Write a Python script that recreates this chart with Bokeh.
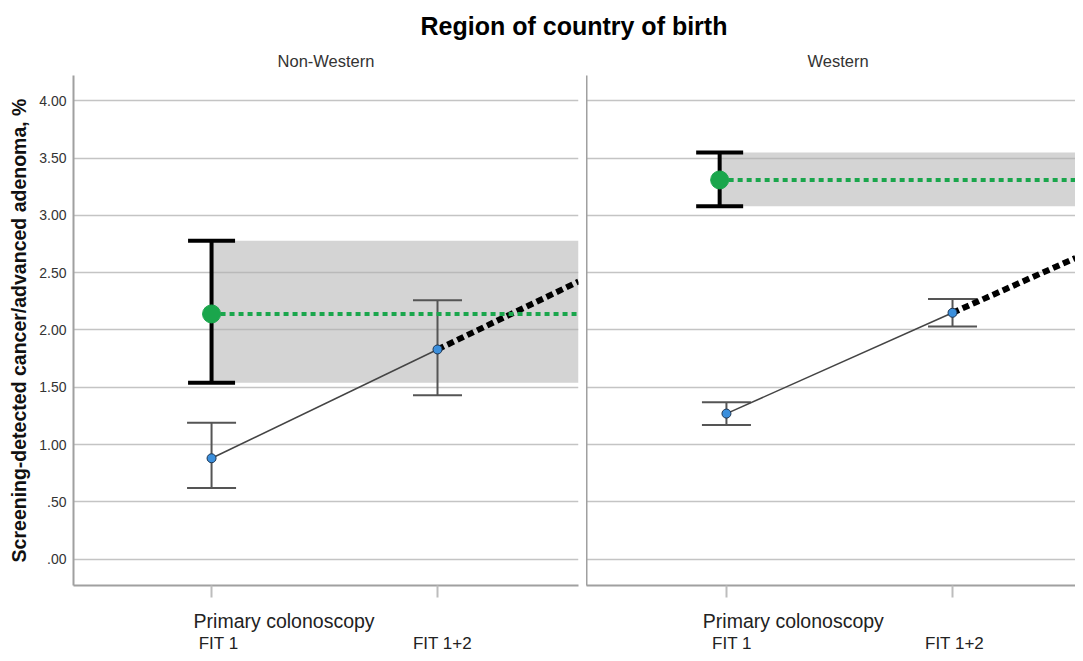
from bokeh.plotting import figure
from bokeh.models import FixedTicker, Div, Range1d, LinearAxis
from bokeh.layouts import row, column
from bokeh.embed import file_html
from bokeh.resources import INLINE

# ---------------- data ----------------
panel_names = ["Non-Western", "Western"]
fit_labels = ["FIT 1", "FIT 1+2"]
colo_label = "Primary colonoscopy"

fit_mean_nonwestern = [0.88, 1.83]
fit_lower_nonwestern = [0.62, 1.43]
fit_upper_nonwestern = [1.19, 2.26]

fit_mean_western = [1.27, 2.15]
fit_lower_western = [1.17, 2.03]
fit_upper_western = [1.37, 2.27]

colo_mean = [2.14, 3.31]
colo_lower = [1.54, 3.08]
colo_upper = [2.78, 3.55]

y_ticks = [0.0, 0.5, 1.0, 1.5, 2.0, 2.5, 3.0, 3.5, 4.0]
y_title = "Screening-detected cancer/advanced adenoma, %"
main_title = "Region of country of birth"

# ---------------- layout / style ----------------
FONT = "Liberation Sans"
GREEN = "#1aa64c"
BLUE = "#3b8fdc"
GRID = "#c4c4c4"
AXIS = "#a0a0a0"
Y_RANGE = (-0.231, 4.222)
DIV_H = 34
FIG_H = 611
# label anchor positions (category units) for the two label rows under the axis
LABEL_POS = {
    "Non-Western": {"colo": 0.321, "fit": [0.031, 1.022]},
    "Western": {"colo": 0.296, "fit": [0.024, 1.009]},
}


def make_panel(name, means, lows, highs, c_mean, c_low, c_high,
               x_start, x_end, width, left, colo_shift):
    p = figure(width=width, height=FIG_H, output_backend="svg", toolbar_location=None,
               x_range=Range1d(x_start, x_end), y_range=Range1d(*Y_RANGE),
               min_border_left=73 if left else 0, min_border_right=8 if left else 0,
               min_border_top=0, min_border_bottom=68,
               title=name)
    p.outline_line_color = None
    p.background_fill_color = "white"
    p.border_fill_color = "white"
    if left:
        p.title.align = "center"
    else:
        p.title.align = "left"
        p.title.offset = 221
    p.title.text_font = FONT
    p.title.text_font_size = "16.5px"
    p.title.text_font_style = "normal"
    p.title.text_color = "#333333"
    p.title.standoff = 11

    # grid
    p.xgrid.visible = False
    p.ygrid.ticker = FixedTicker(ticks=y_ticks)
    p.ygrid.grid_line_color = GRID
    p.ygrid.grid_line_width = 1.5

    # bottom axis: line + tick marks only
    p.xaxis.ticker = FixedTicker(ticks=[0, 1])
    p.xaxis.major_label_overrides = {0: "", 1: ""}
    p.xaxis.major_label_text_font_size = "0px"
    p.xaxis.major_tick_out = 12
    p.xaxis.major_tick_in = 0
    p.xaxis.major_tick_line_color = "#bdbdbd"
    p.xaxis.major_tick_line_width = 2
    p.xaxis.minor_tick_line_color = None
    p.xaxis.axis_line_color = AXIS
    p.xaxis.axis_line_width = 2
    p.xaxis.major_label_standoff = 0

    # label rows (axes without line or ticks)
    pos = LABEL_POS[name]
    row1 = LinearAxis(ticker=FixedTicker(ticks=[pos["colo"]]),
                      major_label_overrides={pos["colo"]: colo_label})
    row2 = LinearAxis(ticker=FixedTicker(ticks=pos["fit"]),
                      major_label_overrides={pos["fit"][0]: fit_labels[0],
                                             pos["fit"][1]: fit_labels[1]})
    for ax, fs, so in ((row1, "19.5px", 12), (row2, "17px", -1)):
        ax.axis_line_color = None
        ax.major_tick_line_color = None
        ax.minor_tick_line_color = None
        ax.major_tick_out = 0
        ax.major_tick_in = 0
        ax.major_label_text_font = FONT
        ax.major_label_text_font_size = fs
        ax.major_label_text_color = "#222222"
        ax.major_label_standoff = so
        p.add_layout(ax, "below")

    # y axis
    p.yaxis.axis_line_color = AXIS
    p.yaxis.axis_line_width = 2
    p.yaxis.major_tick_out = 0
    p.yaxis.major_tick_in = 0
    p.yaxis.minor_tick_line_color = None
    if left:
        p.yaxis.ticker = FixedTicker(ticks=y_ticks)
        p.yaxis.major_label_overrides = {t: f"{t:.2f}".lstrip("0") for t in y_ticks}
        p.yaxis.major_label_text_font = FONT
        p.yaxis.major_label_text_font_size = "14px"
        p.yaxis.major_label_text_color = "#333333"
        p.yaxis.major_label_standoff = 7
        p.yaxis.axis_label = y_title
        p.yaxis.axis_label_text_font = FONT
        p.yaxis.axis_label_text_font_size = "19.5px"
        p.yaxis.axis_label_text_font_style = "bold"
        p.yaxis.axis_label_text_color = "#111111"
        p.yaxis.axis_label_standoff = 6
    else:
        p.yaxis.ticker = FixedTicker(ticks=[])
        p.yaxis.major_label_standoff = 0

    xs = [0, 1]
    cx = 0 + colo_shift

    # colonoscopy CI band
    p.quad(left=[cx], right=[x_end], bottom=[c_low], top=[c_high],
           fill_color="#b0b0b0", fill_alpha=0.55, line_color=None)

    # FIT error bars
    p.segment(x0=xs, y0=lows, x1=xs, y1=highs, line_color="#555555", line_width=2)
    p.scatter(x=xs + xs, y=lows + highs, marker="dash", size=49,
              line_color="#555555", line_width=2)

    # FIT connecting line
    p.line(x=xs, y=means, line_color="#444444", line_width=1.5)

    # extrapolation (black dotted)
    slope = means[1] - means[0]
    y_end = means[1] + slope * (x_end - 1)
    p.line(x=[1, x_end], y=[means[1], y_end], line_color="black",
           line_width=6, line_dash="7 4")

    # colonoscopy reference (green dotted)
    p.line(x=[cx, x_end], y=[c_mean, c_mean], line_color=GREEN,
           line_width=4, line_dash="5 4")

    # colonoscopy error bar (black)
    p.segment(x0=[cx], y0=[c_low], x1=[cx], y1=[c_high], line_color="black", line_width=4)
    p.scatter(x=[cx, cx], y=[c_low, c_high], marker="dash", size=47,
              line_color="black", line_width=4)
    p.scatter(x=[cx], y=[c_mean], marker="circle", size=18,
              fill_color=GREEN, line_color=GREEN)

    # FIT points
    p.scatter(x=xs, y=means, marker="circle", size=9,
              fill_color=BLUE, line_color="#1d3552", line_width=1)
    return p


left_p = make_panel(panel_names[0], fit_mean_nonwestern, fit_lower_nonwestern,
                    fit_upper_nonwestern, colo_mean[0], colo_lower[0], colo_upper[0],
                    -0.611, 1.624, 586, True, 0.0)
right_p = make_panel(panel_names[1], fit_mean_western, fit_lower_western,
                     fit_upper_western, colo_mean[1], colo_lower[1], colo_upper[1],
                     -0.619, 1.544, 489, False, -0.03)

title_div = Div(
    text=(f'<div style="margin-left:68px;width:1002px;text-align:center;'
          f'margin-top:8px;font-family:\'Liberation Sans\',Arial,sans-serif;'
          f'font-size:25px;line-height:26px;font-weight:bold;color:#000;'
          f'white-space:nowrap;">{main_title}</div>'),
    width=1075, height=DIV_H)

layout = column(title_div, row(left_p, right_p, spacing=0), spacing=0)

with open("out.html", "w") as f:
    f.write(file_html(layout, INLINE))
